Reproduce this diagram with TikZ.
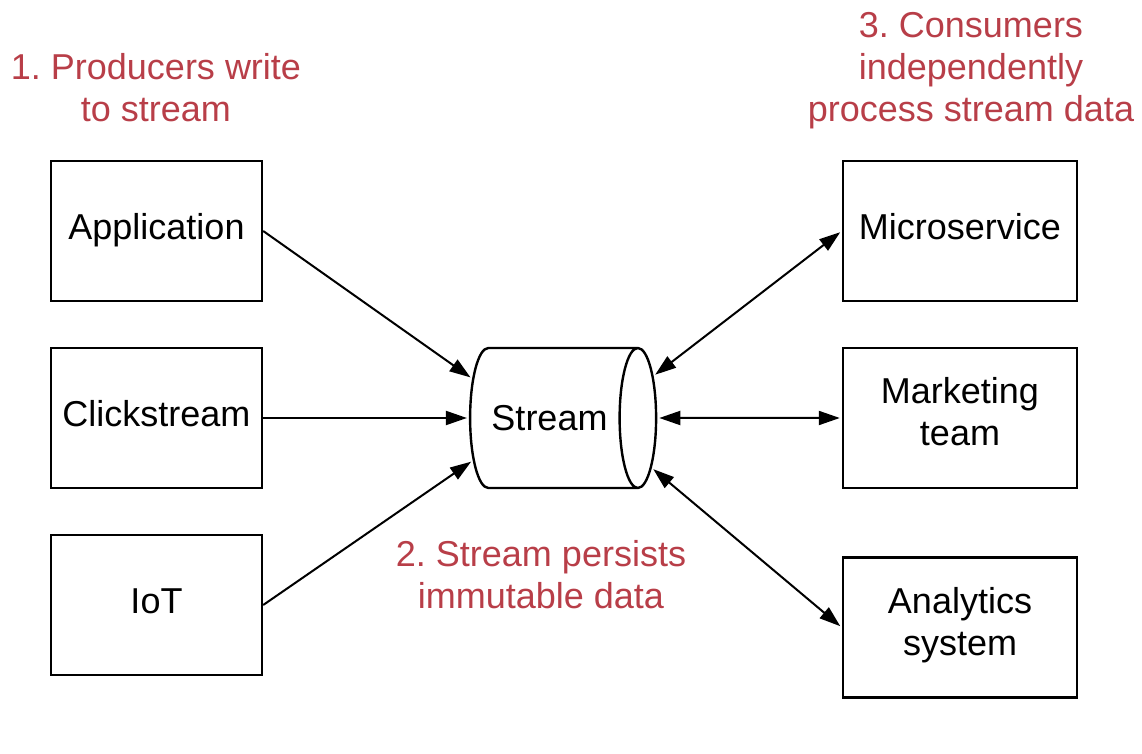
\documentclass[tikz,border=0pt]{standalone}
\usepackage{fontspec}
\setmainfont{Liberation Sans}
\usetikzlibrary{shapes.geometric,arrows.meta}
\definecolor{notered}{RGB}{184,62,72}
\frenchspacing

\begin{document}
\begin{tikzpicture}[x=0.5pt,y=-0.5pt,
    >={Triangle[length=10.5pt,width=7pt]},
    src/.style={draw,line width=1.2pt,minimum width=105.5pt,minimum height=70pt,
      align=center,font=\fontsize{18}{21}\selectfont,
      execute at begin node=\strut,execute at end node=\strut},
    sink/.style={src,minimum width=117pt},
    note/.style={text=notered,align=center,font=\fontsize{18}{21}\selectfont},
    flow/.style={line width=1pt,shorten >=1pt},
    twoway/.style={flow,<->,shorten <=1pt}]
    \useasboundingbox (0,0) rectangle (1142,754);
    % producers
    \node[src] (app) at (156.5,231) {Application};
    \node[src] (click) at (156.5,418) {Clickstream};
    \node[src] (iot) at (156.5,605) {IoT};
    % stream
    \node[cylinder,draw,line width=1.2pt,shape aspect=0.94,minimum width=70pt,
      minimum height=93pt,font=\fontsize{18}{21}\selectfont] (stream) at (549.5,418) {Stream};
    % consumers
    \node[sink] (micro) at (960,231) {Microservice};
    \node[sink] (mkt) at (960,418) {Marketing\\team};
    \node[sink] (ana) at (960,627.5) {Analytics\\system};
    % notes
    \node[note] (n1) at (156,88) {1. Producers write\\to stream};
    \node[note] (n2) at (541,575) {2. Stream persists\\immutable data};
    \node[note] (n3) at (971,71) {3. Consumers\\independently\\process stream data};
    % connectors
    \draw[flow,->] (app.east) -- (stream.153);
    \draw[flow,->] (click.east) -- (stream.west);
    \draw[flow,->] (iot.east) -- (stream.209);
    \draw[twoway] (stream.22) -- (micro.west);
    \draw[twoway] (stream.east) -- (mkt.west);
    \draw[twoway] (stream.-26) -- (ana.west);
\end{tikzpicture}
\end{document}
